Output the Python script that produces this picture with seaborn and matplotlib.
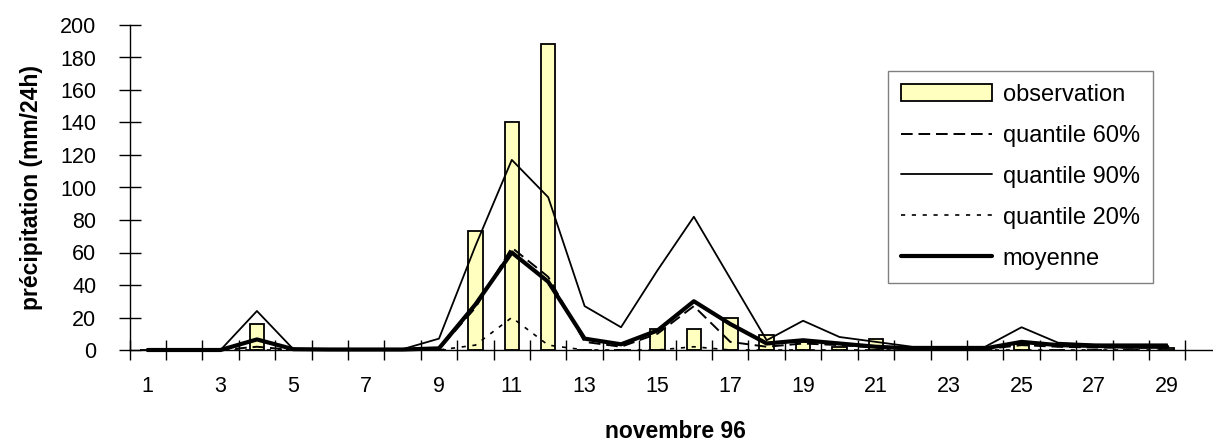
import matplotlib
matplotlib.use("Agg")
import matplotlib.pyplot as plt
import seaborn as sns
import pandas as pd
import numpy as np

# daily values, novembre 96 (mm/24h)
jours = list(range(1, 30))
observation = [0, 0, 0, 16, 0, 0, 0, 0, 0, 73, 140, 188, 0, 0, 13,
               13, 20, 9, 5, 2, 7, 0, 0, 0, 4, 0, 0, 0, 1.5]
quantile_60 = [0, 0, 0, 2, 0, 0, 0, 0, 0.5, 26, 63, 45, 5, 2, 10,
               27, 5, 2, 4, 3, 1.5, 0.5, 0.5, 0.5, 3, 2, 1.5, 1.5, 1.5]
quantile_90 = [0, 0, 0, 24, 0.5, 0.5, 0.5, 0.5, 7, 64, 117, 94, 27, 14, 49,
               82, 44, 6, 18, 8, 5, 2, 2, 2, 14, 4.5, 3.5, 3.5, 3.5]
quantile_20 = [0, 0, 0, 0, 0, 0, 0, 0, 0, 3, 20, 3, 0, 0, 0,
               2, 0, 0, 0, 0, 0, 0, 0, 0, 0, 0, 0, 0, 0]
moyenne = [0, 0, 0, 6.5, 0.5, 0.3, 0.3, 0.3, 1, 28, 60, 42, 7, 3.5, 12,
           30, 16, 4, 6, 4, 2, 1, 1, 1, 5, 3, 2.5, 2, 2]

y_ticks = list(range(0, 201, 20))
x_ticks = list(range(1, 30, 2))
x_tick_labels = [str(d) for d in x_ticks]
legend_order = ["observation", "quantile 60%", "quantile 90%",
                "quantile 20%", "moyenne"]

df = pd.DataFrame({
    "jour": jours,
    "observation": observation,
    "q60": quantile_60,
    "q90": quantile_90,
    "q20": quantile_20,
    "moyenne": moyenne,
})

sns.set_theme(style="white")
plt.rcParams["font.family"] = ["Liberation Sans", "DejaVu Sans"]
for key in ["text.color", "axes.labelcolor", "xtick.color", "ytick.color"]:
    plt.rcParams[key] = "black"

W, H = 1213, 448
fig = plt.figure(figsize=(W / 100, H / 100), dpi=100)
# 30 day slots, the last one runs past the right edge like the reference
ax = fig.add_axes([129.5 / W, 1 - 350 / H, 36.41 * 30 / W, 325 / H])

sns.barplot(data=df, x="jour", y="observation", native_scale=True,
            width=0.4, color="#FFFFC0", saturation=1, edgecolor="black",
            linewidth=1.3, label="observation", ax=ax, zorder=2)

line_styles = [
    ("q60", "quantile 60%", 1.4, (0, (6, 3))),
    ("q90", "quantile 90%", 1.3, "-"),
    ("q20", "quantile 20%", 1.2, (0, (2.5, 4))),
    ("moyenne", "moyenne", 3.0, "-"),
]
for col, lab, lw, ls in line_styles:
    sns.lineplot(data=df, x="jour", y=col, color="black", linewidth=lw,
                 linestyle=ls, label=lab, ax=ax, clip_on=False, zorder=3)

ax.set_xlim(0.5, 30.5)
ax.set_ylim(0, 200)
ax.set_yticks(y_ticks)
ax.set_xticks(x_ticks)
ax.set_xticklabels(x_tick_labels)
ax.set_xticks(np.arange(0.5, 31, 1), minor=True)

ax.tick_params(axis="y", direction="inout", length=16, width=1,
               color="black", labelsize=15.5, pad=16, left=True)
ax.tick_params(axis="x", which="major", length=0, labelsize=15.5, pad=19,
               bottom=True)
ax.tick_params(axis="x", which="minor", direction="inout", length=14,
               width=1, color="black", bottom=True)

sns.despine(ax=ax)
for side in ["left", "bottom"]:
    ax.spines[side].set_color("black")
    ax.spines[side].set_linewidth(1)

ax.set_xlabel("novembre 96", fontsize=16.5, fontweight="bold", labelpad=16)
ax.set_ylabel("précipitation (mm/24h)", fontsize=16.5, fontweight="bold",
              labelpad=12)

handles, labels = ax.get_legend_handles_labels()
by_label = dict(zip(labels, handles))
leg = ax.legend([by_label[k] for k in legend_order], legend_order,
                loc="upper left", bbox_to_anchor=(888 / W, 1 - 71 / H),
                bbox_transform=fig.transFigure, frameon=True, fancybox=False,
                edgecolor="#808080", fontsize=17, handlelength=3.85,
                handletextpad=0.45, labelspacing=0.8, borderpad=0.55,
                borderaxespad=0)
leg.get_frame().set_linewidth(1.0)
leg.get_frame().set_alpha(1)

fig.savefig("out.png", dpi=100)
